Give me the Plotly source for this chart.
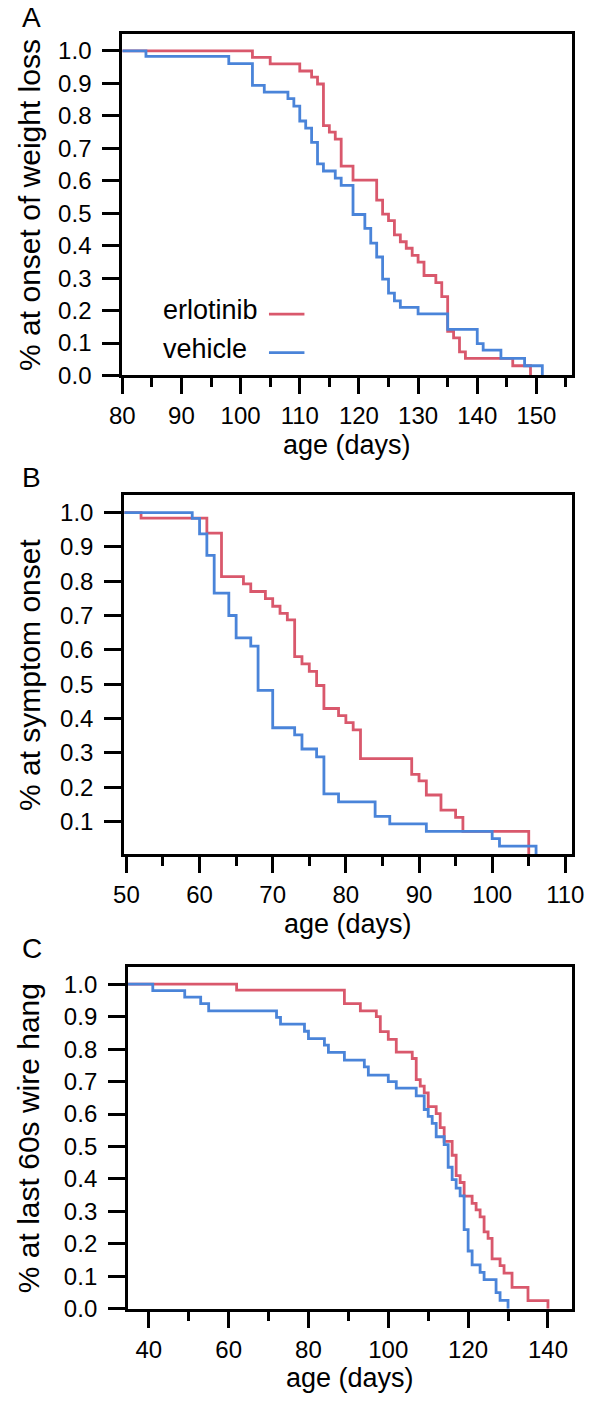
import plotly.graph_objects as go

W, H = 605, 1407

# ---------------- data (fraction of mice still without the event) ----------------
# Panel A: onset of weight loss
a_erl_days = [80, 102, 105, 110, 112, 113, 114, 115, 116, 117, 119, 123, 124, 125, 126, 127,
              128, 129, 130, 131, 133, 134, 135, 136, 137, 138, 146, 149]
a_erl_frac = [1.0, 0.98, 0.96, 0.938, 0.919, 0.898, 0.77, 0.75, 0.728, 0.645, 0.602, 0.54,
              0.497, 0.477, 0.433, 0.412, 0.392, 0.37, 0.349, 0.308, 0.286, 0.243, 0.136,
              0.116, 0.073, 0.053, 0.03, 0.0]
a_veh_days = [80, 84, 98, 102, 104, 108, 109, 110, 111, 112, 113, 114, 116, 117, 119, 121, 122,
              123, 124, 125, 126, 127, 130, 135, 140, 141, 144, 148, 151]
a_veh_frac = [1.0, 0.983, 0.961, 0.894, 0.873, 0.853, 0.83, 0.784, 0.762, 0.718, 0.652, 0.63,
              0.608, 0.586, 0.496, 0.453, 0.408, 0.365, 0.297, 0.254, 0.23, 0.21, 0.19, 0.142,
              0.098, 0.078, 0.053, 0.03, 0.0]

# Panel B: symptom onset
b_erl_days = [49.7, 52, 61, 63, 66, 67, 69, 70, 71, 72, 73, 74, 75, 76, 77, 79, 80, 81, 82, 89,
              90, 91, 93, 95, 96, 105]
b_erl_frac = [1.0, 0.984, 0.94, 0.813, 0.792, 0.77, 0.749, 0.727, 0.706, 0.687, 0.58, 0.559,
              0.537, 0.496, 0.429, 0.408, 0.388, 0.367, 0.283, 0.237, 0.218, 0.177, 0.133,
              0.112, 0.071, 0.0]
b_veh_days = [49.7, 59, 60, 61, 62, 64, 65, 67, 68, 70, 73, 74, 76, 77, 79, 84, 86, 91, 100, 101,
              106]
b_veh_frac = [1.0, 0.983, 0.938, 0.875, 0.765, 0.7, 0.635, 0.611, 0.482, 0.373, 0.352, 0.311,
              0.288, 0.18, 0.157, 0.115, 0.093, 0.071, 0.05, 0.028, 0.0]

# Panel C: last 60 s wire hang
c_erl_days = [34.8, 62, 89, 93, 97, 98, 100, 102, 106, 107, 108, 109, 110, 112, 113, 114, 116, 117,
              118, 119, 121, 122, 123, 124, 125, 126, 128, 129, 131, 135, 140]
c_erl_frac = [1.0, 0.982, 0.94, 0.918, 0.9, 0.854, 0.83, 0.791, 0.771, 0.706, 0.686, 0.665,
              0.623, 0.601, 0.558, 0.516, 0.473, 0.41, 0.389, 0.347, 0.325, 0.305, 0.283,
              0.237, 0.217, 0.154, 0.133, 0.11, 0.066, 0.025, 0.0]
c_veh_days = [34.8, 41, 49, 53, 55, 72, 73, 79, 80, 84, 85, 89, 94, 95, 100, 102, 107, 109, 110,
              111, 112, 114, 115, 116, 117, 118, 119, 120, 121, 123, 124, 127, 128, 130]
c_veh_frac = [1.0, 0.98, 0.96, 0.94, 0.918, 0.898, 0.877, 0.855, 0.832, 0.812, 0.79, 0.766,
              0.745, 0.72, 0.7, 0.68, 0.656, 0.614, 0.593, 0.571, 0.53, 0.506, 0.436, 0.398,
              0.372, 0.348, 0.244, 0.178, 0.135, 0.112, 0.09, 0.05, 0.026, 0.0]

a_yticks = [0.0, 0.1, 0.2, 0.3, 0.4, 0.5, 0.6, 0.7, 0.8, 0.9, 1.0]
b_yticks = [0.1, 0.2, 0.3, 0.4, 0.5, 0.6, 0.7, 0.8, 0.9, 1.0]
c_yticks = [0.0, 0.1, 0.2, 0.3, 0.4, 0.5, 0.6, 0.7, 0.8, 0.9, 1.0]

series_names = ["erlotinib", "vehicle"]
x_title = "age (days)"
y_titles = ["% at onset of weight loss", "% at symptom onset", "% at last 60s wire hang"]
letters = ["A", "B", "C"]

# ---------------- styling ----------------
RED = "#D9586C"
BLUE = "#4A84D9"
FONT = "Liberation Sans, Arial, sans-serif"
FS_TICK = 24
FS_XT = 27
FS_YT = 30
FS_LEG = 27
LW = 2.8


def xdom(l, r):
    return [l / W, r / W]


def ydom(t, b):
    return [1 - b / H, 1 - t / H]


panels = [
    dict(erl=(a_erl_days, a_erl_frac), veh=(a_veh_days, a_veh_frac), xr=[80, 156],
         yr=[0.0, 1.053], box=(114, 583, 34, 379), dt=10, mdt=5, yt=a_yticks, lt=18, tt=70),
    dict(erl=(b_erl_days, b_erl_frac), veh=(b_veh_days, b_veh_frac), xr=[49.7, 110.9],
         yr=[0.005, 1.05], box=(116, 583, 500, 862), dt=10, mdt=5, yt=b_yticks, lt=482, tt=71),
    dict(erl=(c_erl_days, c_erl_frac), veh=(c_veh_days, c_veh_frac), xr=[34.8, 146],
         yr=[0.0, 1.053], box=(120, 583, 976, 1321), dt=20, mdt=10, yt=c_yticks, lt=957, tt=70),
]

fig = go.Figure()
layout = dict(
    width=W, height=H, margin=dict(l=0, r=0, t=0, b=0),
    paper_bgcolor="white", plot_bgcolor="white", showlegend=False,
    font=dict(family=FONT, size=FS_TICK, color="black"),
)
annotations = []
shapes = []

for i, p in enumerate(panels):
    sfx = "" if i == 0 else str(i + 1)
    xa, ya = "x" + sfx, "y" + sfx
    l, r, t, b = p["box"]
    for (days, frac), col, nm in [(p["erl"], RED, series_names[0]), (p["veh"], BLUE, series_names[1])]:
        fig.add_trace(go.Scatter(x=days, y=frac, mode="lines", name=nm,
                                 line=dict(shape="hv", color=col, width=LW),
                                 xaxis=xa, yaxis=ya, hoverinfo="x+y+name"))
    layout["xaxis" + sfx] = dict(
        domain=xdom(l, r), range=p["xr"], anchor=ya, showline=True, linecolor="black",
        linewidth=3, mirror=True, ticks="outside", ticklen=16, tickwidth=3,
        tickcolor="black", tick0=0, dtick=p["dt"], showgrid=False, zeroline=False,
        tickfont=dict(family=FONT, size=FS_TICK), ticklabelstandoff=1,
        minor=dict(ticks="outside", ticklen=9, tickwidth=3, tickcolor="black",
                   dtick=p["mdt"], tick0=0, showgrid=False),
    )
    layout["yaxis" + sfx] = dict(
        domain=ydom(t, b), range=p["yr"], anchor=xa, showline=True, linecolor="black",
        linewidth=3, mirror=True, ticks="outside", ticklen=17, tickwidth=3,
        tickcolor="black", tickvals=p["yt"], ticktext=["%.1f" % v for v in p["yt"]],
        showgrid=False, zeroline=False, tickfont=dict(family=FONT, size=FS_TICK),
        ticklabelstandoff=6,
    )
    # axis titles
    annotations.append(dict(text=x_title, xref="paper", yref="paper",
                            x=(l + r) / 2 / W, y=1 - (b + p["tt"]) / H, showarrow=False,
                            xanchor="center", yanchor="middle", font=dict(size=FS_XT)))
    annotations.append(dict(text=y_titles[i], xref="paper", yref="paper",
                            x=17 / W, y=1 - (t + b) / 2 / H, showarrow=False, textangle=-90,
                            xanchor="center", yanchor="middle", font=dict(size=FS_YT)))
    annotations.append(dict(text=letters[i], xref="paper", yref="paper",
                            x=7 / W, y=1 - p["lt"] / H, showarrow=False,
                            xanchor="left", yanchor="middle", font=dict(size=28)))

# legend in panel A (text then line sample)
leg_rows = [(series_names[0], RED, 317), (series_names[1], BLUE, 356)]
for nm, col, yy in leg_rows:
    annotations.append(dict(text=nm, xref="paper", yref="paper", x=154 / W, y=1 - (yy - 4) / H,
                            showarrow=False, xanchor="left", yanchor="middle",
                            font=dict(size=FS_LEG)))
    shapes.append(dict(type="line", xref="paper", yref="paper", x0=267 / W, x1=304 / W,
                       y0=1 - yy / H, y1=1 - yy / H, line=dict(color=col, width=LW)))

layout["annotations"] = annotations
layout["shapes"] = shapes
fig.update_layout(**layout)
fig.write_html("out.html", config={"displayModeBar": False},
               post_script="document.body.style.margin='0px';")
